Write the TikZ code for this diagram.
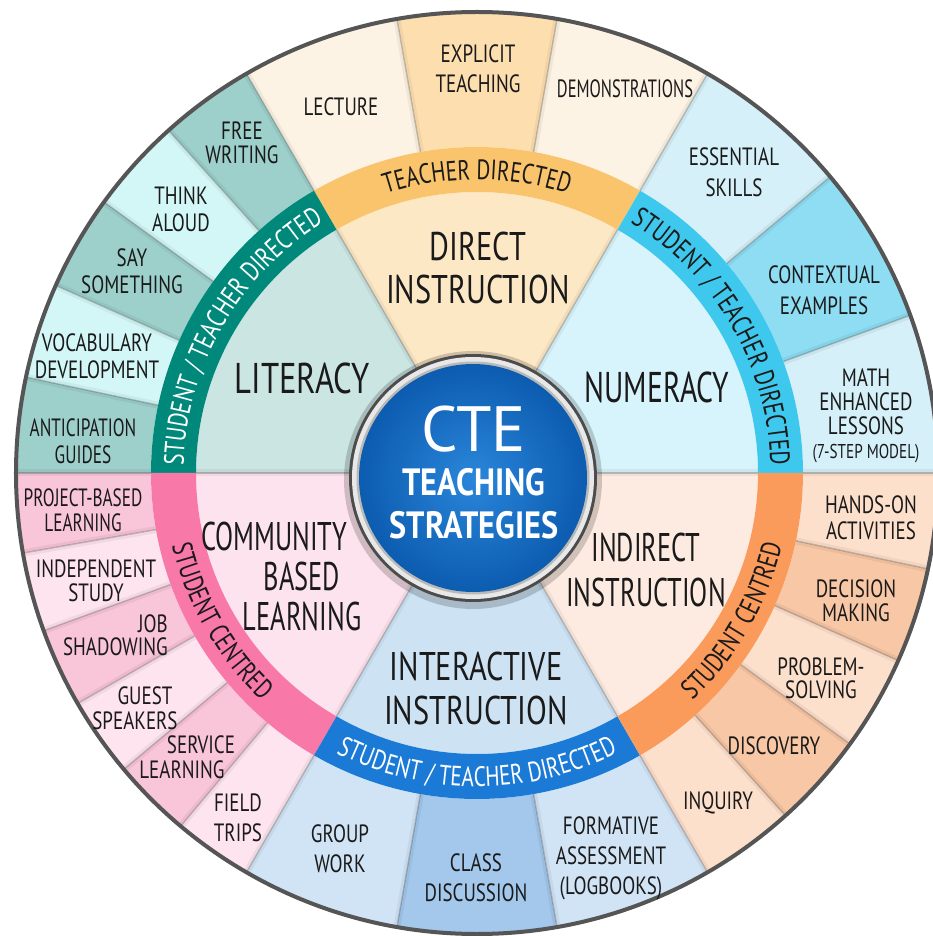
\documentclass[tikz,border=0pt]{standalone}
\usepackage{fontspec}
\setmainfont[FakeStretch=0.76]{PT Sans}
\newfontfamily\ctefont{PT Sans}
\newfontfamily\hubfont[FakeStretch=0.85]{PT Sans}
\newfontfamily\narrowB[FakeStretch=0.69]{PT Sans}
\newfontfamily\narrowC[FakeStretch=0.66]{PT Sans}
\usetikzlibrary{decorations.text}
\definecolor{txt}{HTML}{1A1A1A}
\definecolor{dirIn}{HTML}{FDE8C6}\definecolor{dirBand}{HTML}{F9C46B}\definecolor{dirL}{HTML}{FCF3E4}\definecolor{dirD}{HTML}{FDDFAF}
\definecolor{numIn}{HTML}{D7F3FB}\definecolor{numBand}{HTML}{3FC8ED}\definecolor{numL}{HTML}{D5F0F8}\definecolor{numD}{HTML}{8EDDF3}
\definecolor{litIn}{HTML}{CBE5E3}\definecolor{litBand}{HTML}{00897B}\definecolor{litL}{HTML}{D3F7F6}\definecolor{litD}{HTML}{9DCFCB}
\definecolor{comIn}{HTML}{FDE3ED}\definecolor{comBand}{HTML}{F878A8}\definecolor{comL}{HTML}{FDE4EE}\definecolor{comD}{HTML}{F9C5D8}
\definecolor{intIn}{HTML}{CDE3F4}\definecolor{intBand}{HTML}{1B7AD5}\definecolor{intL}{HTML}{D1E4F5}\definecolor{intD}{HTML}{A3C8EB}
\definecolor{indIn}{HTML}{FDEBE1}\definecolor{indBand}{HTML}{FA9A5B}\definecolor{indL}{HTML}{FDE0CC}\definecolor{indD}{HTML}{F8C7A5}
\definecolor{rim}{HTML}{555555}
\definecolor{hubL}{HTML}{2A86DA}\definecolor{hubD}{HTML}{0C5CB0}
\newcommand\wseg[5]{\fill[#5] (#1:#3pt) arc[start angle=#1,end angle=#2,radius=#3pt] -- (#2:#4pt) arc[start angle=#2,end angle=#1,radius=#4pt] -- cycle;}
\newcommand\bandsz{\fontsize{28}{28}\selectfont}
\newcommand\bandtxt[5]{\path[decorate,decoration={text along path,text align=center,text color=#5,text={|\bandsz|#4}}] (#1:#3pt) arc[start angle=#1,end angle=#2,radius=#3pt];}
\tikzset{
  lab/.style={font=\fontsize{25}{#1}\selectfont,align=center,inner sep=0pt,text=txt},
  lab/.default=27,
  big/.style={font=\fontsize{40}{#1}\selectfont,align=center,inner sep=0pt,text=txt},
  big/.default=43,
  sepline/.style={line width=1.4pt,black,opacity=0.2},
  sepsoft/.style={line width=7pt,black,opacity=0.05},
}
\begin{document}
\begin{tikzpicture}[x=1pt,y=1pt]
\useasboundingbox (-477,-463) rectangle (455,473);
\fill[white] (-477,-463) rectangle (455,473);
% outer segments
\wseg{60}{80}{326}{462}{dirL}\wseg{80}{100}{326}{462}{dirD}\wseg{100}{120}{326}{462}{dirL}
\wseg{0}{20}{326}{462}{numL}\wseg{20}{40}{326}{462}{numD}\wseg{40}{60}{326}{462}{numL}
\wseg{120}{132}{326}{462}{litD}\wseg{132}{144}{326}{462}{litL}\wseg{144}{156}{326}{462}{litD}\wseg{156}{168}{326}{462}{litL}\wseg{168}{180}{326}{462}{litD}
\wseg{180}{190}{326}{462}{comD}\wseg{190}{200}{326}{462}{comL}\wseg{200}{210}{326}{462}{comD}\wseg{210}{220}{326}{462}{comL}\wseg{220}{230}{326}{462}{comD}\wseg{230}{240}{326}{462}{comL}
\wseg{240}{260}{326}{462}{intL}\wseg{260}{280}{326}{462}{intD}\wseg{280}{300}{326}{462}{intL}
\wseg{300}{312}{326}{462}{indL}\wseg{312}{324}{326}{462}{indD}\wseg{324}{336}{326}{462}{indL}\wseg{336}{348}{326}{462}{indD}\wseg{348}{360}{326}{462}{indL}
% inner wedges
\wseg{60}{120}{90}{281}{dirIn}\wseg{0}{60}{90}{281}{numIn}\wseg{120}{180}{90}{281}{litIn}
\wseg{180}{240}{90}{281}{comIn}\wseg{240}{300}{90}{281}{intIn}\wseg{300}{360}{90}{281}{indIn}
% separators
\foreach \a in {80,100,20,40,132,144,156,168,190,200,210,220,230,260,280,312,324,336,348}
  {\draw[sepsoft] (\a:326pt) -- (\a:461pt); \draw[sepline] (\a:326pt) -- (\a:461pt);}
\foreach \a in {0,60,120,180,240,300}
  {\draw[sepsoft] (\a:326pt) -- (\a:461pt); \draw[sepline] (\a:326pt) -- (\a:461pt);
   \draw[sepsoft] (\a:110pt) -- (\a:281pt); \draw[sepline] (\a:110pt) -- (\a:281pt);}
% bands
\wseg{60}{120}{281}{326}{dirBand}\wseg{0}{60}{281}{326}{numBand}\wseg{120}{180}{281}{326}{litBand}
\wseg{180}{240}{281}{326}{comBand}\wseg{240}{300}{281}{326}{intBand}\wseg{300}{360}{281}{326}{indBand}
% rim
\draw[rim,line width=4pt] (0,0) circle (461pt);
% band texts
\bandtxt{130}{50}{293.5}{TEACHER DIRECTED}{txt}
\bandtxt{70}{-10}{293.5}{STUDENT / TEACHER DIRECTED}{txt}
\bandtxt{190}{110}{293.5}{STUDENT / TEACHER DIRECTED}{white}
\bandtxt{170}{250}{313.5}{STUDENT CENTRED}{txt}
\bandtxt{230}{310}{313.5}{STUDENT / TEACHER DIRECTED}{white}
\bandtxt{290}{370}{313.5}{STUDENT CENTRED}{txt}
% hub
\fill[black,opacity=0.18] (-4,-7) circle (129pt);
\fill[gray!60!black] (-4,-5) circle (124pt);
\fill[gray!18] (-4,-5) circle (121pt);
\fill[gray!55] (-4,-5) circle (116.5pt);
\shade[inner color=hubL,outer color=hubD] (-4,-5) circle (114pt);
\node (cte) at (-3,44) [inner sep=0pt,text=white,font=\ctefont\fontsize{64}{64}\selectfont] {CTE};
\node (teaching) at (-3,-9) [inner sep=0pt,text=white,font=\hubfont\bfseries\fontsize{38}{38}\selectfont] {TEACHING};
\node (strategies) at (-3,-52) [inner sep=0pt,text=white,font=\hubfont\bfseries\fontsize{38}{38}\selectfont] {STRATEGIES};
% big labels
\node (direct) at (1,205) [big] {DIRECT\\INSTRUCTION};
\node (literacy) at (-175,95) [big,font=\fontsize{43}{43}\selectfont] {LITERACY};
\node (numeracy) at (180,86) [big,font=\narrowB\fontsize{43}{43}\selectfont] {NUMERACY};
\node (indirect) at (169,-97) [big=45,font=\narrowC\fontsize{40}{45}\selectfont] {INDIRECT\\INSTRUCTION};
\node (interactive) at (-1,-215) [big=44] {INTERACTIVE\\INSTRUCTION};
\node (community) at (-175,-103) [big=40,font=\narrowC\fontsize{40}{40}\selectfont] {COMMUNITY\hspace*{56pt}\\BASED\\LEARNING};
% outer labels
\node (lecture) at (-136,366) [lab] {LECTURE};
\node (explicit) at (1,404) [lab=30] {EXPLICIT\\TEACHING};
\node (demo) at (148,384) [lab,font=\narrowC\fontsize{25}{27}\selectfont] {DEMONSTRATIONS};
\node (essential) at (257,301) [lab=31] {ESSENTIAL\\SKILLS};
\node (contextual) at (347,183) [lab=31] {CONTEXTUAL\\EXAMPLES};
\node (math) at (389,57) [lab=24] {MATH\\ENHANCED\\LESSONS\\{\fontsize{20}{24}\selectfont (7-STEP MODEL)}};
\node (handson) at (394,-45) [lab=26] {HANDS-ON\\ACTIVITIES};
\node (decision) at (379,-128) [lab=24] {DECISION\\MAKING};
\node (problem) at (344,-205) [lab=23] {PROBLEM-\\SOLVING};
\node (discovery) at (297,-273) [lab] {DISCOVERY};
\node (inquiry) at (241,-330) [lab] {INQUIRY};
\node (formative) at (134,-385) [lab=30] {FORMATIVE\\ASSESSMENT\\(LOGBOOKS)};
\node (class) at (-1,-405) [lab=30] {CLASS\\DISCUSSION};
\node (group) at (-137,-376) [lab=30] {GROUP\\WORK};
\node (field) at (-239,-345) [lab=30] {FIELD\\TRIPS};
\node (service) at (-295,-284) [lab=25] {\hspace*{38pt}SERVICE\\LEARNING};
\node (guest) at (-342,-235) [lab=25] {\hspace*{20pt}GUEST\\SPEAKERS};
\node (job) at (-309,-162) [lab=23,anchor=east,align=right] {JOB\\SHADOWING};
\node (independent) at (-381,-108) [lab=24] {INDEPENDENT\\STUDY};
\node (project) at (-394,-37) [lab=25,font=\narrowB\fontsize{25}{25}\selectfont] {PROJECT-BASED\\LEARNING};
\node (anticipation) at (-394,32) [lab,font=\narrowB\fontsize{25}{27}\selectfont] {ANTICIPATION\\GUIDES};
\node (vocab) at (-380,117) [lab] {VOCABULARY\\DEVELOPMENT};
\node (say) at (-345,202) [lab] {SAY\\SOMETHING};
\node (think) at (-296,264) [lab] {THINK\\ALOUD};
\node (free) at (-235,330) [lab=24] {FREE\\WRITING};
\end{tikzpicture}
\end{document}
